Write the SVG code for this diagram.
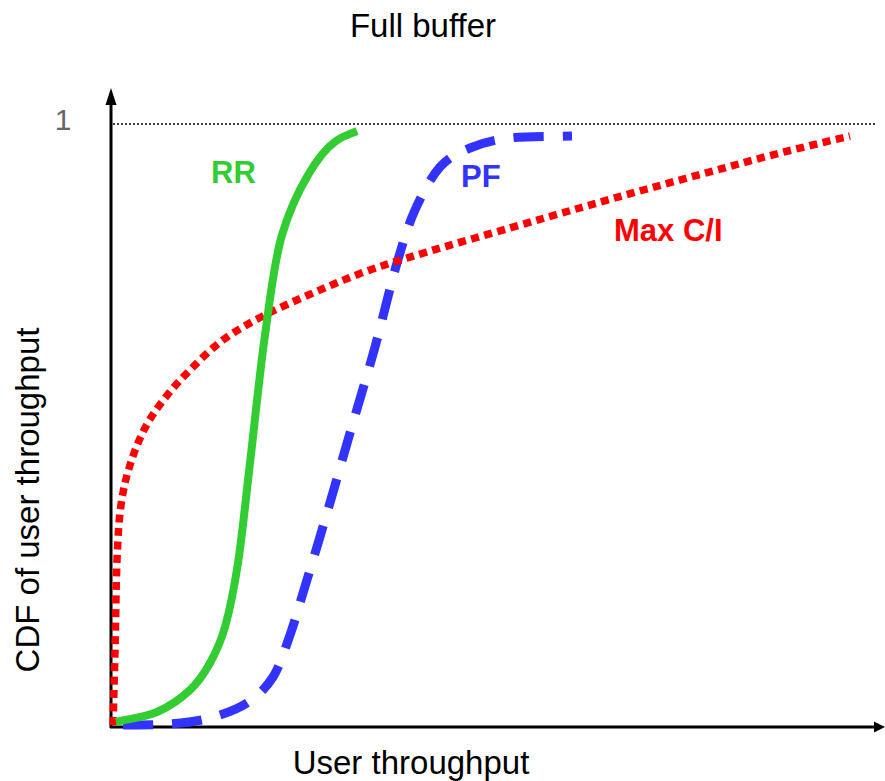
<svg xmlns="http://www.w3.org/2000/svg" width="885" height="781" viewBox="0 0 885 781">
<style>
text{font-family:"Liberation Sans",Arial,sans-serif}
.lbl{font-size:33px;fill:#000}
.tag{font-size:31px;font-weight:bold}
.axis{stroke:#000;stroke-width:3;fill:none}
.curve{fill:none;stroke-linecap:butt}
</style>
<rect width="885" height="781" fill="#fff"/>
<g id="title"><text class="lbl" x="423" y="37" text-anchor="middle">Full buffer</text></g>
<g id="axes">
<line class="axis" x1="111" y1="728" x2="111" y2="100"/>
<polygon points="111,88 105.5,105 116.5,105" fill="#000"/>
<line class="axis" x1="110" y1="727" x2="874" y2="727"/>
<polygon points="885,727 874,721.5 874,732.5" fill="#000"/>
<line x1="113" y1="124" x2="876" y2="124" stroke="#000" stroke-width="1.5" stroke-dasharray="2 2"/>
<text x="63" y="130" font-size="30" fill="#666" text-anchor="middle">1</text>
<text class="lbl" x="411" y="774" text-anchor="middle">User throughput</text>
<text class="lbl" transform="translate(39,500) rotate(-90)" text-anchor="middle" font-size="35">CDF of user throughput</text>
</g>
<g id="connectors">
<path id="pf" class="curve" stroke="#3333FF" stroke-width="9" stroke-dasharray="30 19" d="M123,725 C138.7,724.7 155.5,725.2 170,724 C184.5,722.8 197.2,721.5 210,718 C222.8,714.5 236.5,709.8 247,703 C257.5,696.2 265.8,688.3 273,677 C280.2,665.7 285,649 290,635 C295,621 296.8,613.3 303,593 C309.2,572.7 319.2,539.7 327,513 C334.8,486.3 342,460.7 350,433 C358,405.3 367.2,375.3 375,347 C382.8,318.7 390.3,285.8 397,263 C403.7,240.2 407.8,226 415,210 C422.2,194 430.8,177.3 440,167 C449.2,156.7 458.3,152.8 470,148 C481.7,143.2 493,140 510,138 C527,136 551.3,136.7 572,136"/>
<path id="maxci" class="curve" stroke="#FF0000" stroke-width="7.5" stroke-dasharray="8 5.5" d="M113,725 C113.7,700 114.3,677.5 115,650 C115.7,622.5 116,584.2 117,560 C118,535.8 118.8,520.8 121,505 C123.2,489.2 126,477.8 130,465 C134,452.2 139.2,439.2 145,428 C150.8,416.8 157.5,407.7 165,398 C172.5,388.3 180.3,379.7 190,370 C199.7,360.3 210.8,349 223,340 C235.2,331 248,323.8 263,316 C278,308.2 295.7,300.5 313,293 C330.3,285.5 348,277.8 367,271 C386,264.2 403.2,259.2 427,252 C450.8,244.8 484,235.5 510,228 C536,220.5 560.2,213.5 583,207 C605.8,200.5 625.3,195 647,189 C668.7,183 690.8,177 713,171 C735.2,165 757.2,158.8 780,153 C802.8,147.2 826.7,141.7 850,136"/>
<path id="rr" class="curve" stroke="#33CC33" stroke-width="8" stroke-linejoin="round" d="M116,722 C129.7,718.7 144.7,717.3 157,712 C169.3,706.7 181.2,698.2 190,690 C198.8,681.8 204.2,673.5 210,663 C215.8,652.5 220.3,643.7 225,627 C229.7,610.3 233.8,590.3 238,563 C242.2,535.7 245.5,501 250,463 C254.5,425 259.7,372.7 265,335 C270.3,297.3 274,262 282,235 C290,208 298,192 308,175 C318,158 326,148 336,141 C343,136 350,134 357,131"/>
</g>
<g id="label-rr"><text class="tag" x="211" y="183" fill="#33CC33">RR</text></g>
<g id="label-pf"><text class="tag" x="461" y="187" fill="#3333FF">PF</text></g>
<g id="label-maxci"><text class="tag" x="614" y="241" fill="#FF0000">Max C/I</text></g>
</svg>
